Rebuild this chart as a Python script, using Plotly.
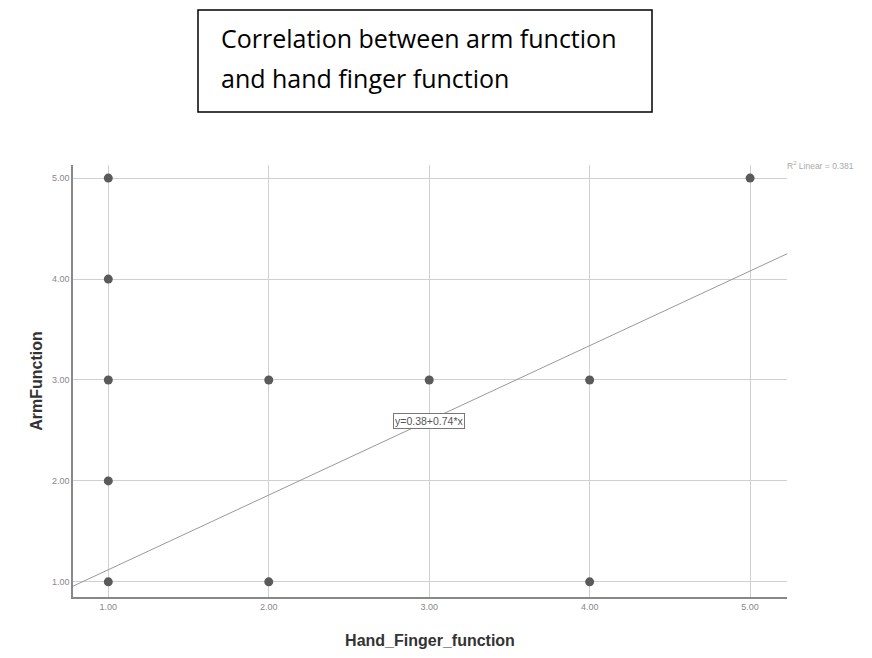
import plotly.graph_objects as go

hand_finger = [1, 1, 1, 1, 1, 2, 2, 3, 4, 4, 5]
arm_function = [1, 2, 3, 4, 5, 1, 3, 3, 1, 3, 5]
intercept = 0.38
slope = 0.74
x_range = [0.78, 5.23]
y_range = [0.85, 5.13]
tick_vals = [1, 2, 3, 4, 5]
tick_text = ["1.00", "2.00", "3.00", "4.00", "5.00"]

# the page body adds an 8px offset; work in page pixels and convert
OFF = 8
L, R, T, B = 73 - OFF, 872 - 787 + OFF, 165 - OFF, 658 - 597 + OFF
PW = 872 - L - R
PH = 658 - T - B


def px(xp):
    return (xp - OFF - L) / PW


def py(yp):
    return (658 - B - (yp - OFF)) / PH


fig = go.Figure()
fig.add_trace(go.Scatter(
    x=x_range, y=[intercept + slope * v for v in x_range],
    mode="lines", line=dict(color="#999999", width=1), hoverinfo="skip", showlegend=False))
fig.add_trace(go.Scatter(
    x=hand_finger, y=arm_function, mode="markers",
    marker=dict(color="#5a5a5a", size=9), showlegend=False))

fig.add_annotation(x=3.0, y=2.59, text="y=0.38+0.74*x", showarrow=False,
                   font=dict(family="Liberation Sans", size=10.5, color="#555"),
                   bordercolor="#777", borderwidth=1, borderpad=1, bgcolor="white")
fig.add_annotation(x=px(785), y=py(165), xref="paper", yref="paper",
                   text="R<sup>2</sup> Linear = 0.381",
                   showarrow=False, xanchor="left", yanchor="middle",
                   font=dict(family="Liberation Sans", size=8.5, color="#aaa"))

fig.add_shape(type="rect", xref="paper", yref="paper",
              x0=px(198), x1=px(652), y0=py(112), y1=py(10),
              line=dict(color="black", width=1.5), fillcolor="white")
fig.add_annotation(xref="paper", yref="paper", x=px(219), y=py(38),
                   text="Correlation between arm function", showarrow=False, xanchor="left",
                   yanchor="middle", font=dict(family="Open Sans", size=25, color="black"))
fig.add_annotation(xref="paper", yref="paper", x=px(219), y=py(78),
                   text="and hand finger function", showarrow=False, xanchor="left",
                   yanchor="middle", font=dict(family="Open Sans", size=25, color="black"))

fig.update_layout(
    width=872, height=658,
    margin=dict(l=L, r=R, t=T, b=B),
    paper_bgcolor="white", plot_bgcolor="white",
    font=dict(family="Liberation Sans"),
    xaxis=dict(range=x_range, tickvals=tick_vals, ticktext=tick_text, showgrid=True,
               gridcolor="#d0d0d0", gridwidth=1, zeroline=False, showline=True, linecolor="#888",
               linewidth=1.5, ticks="", tickfont=dict(size=9, color="#888"),
               title=dict(text="<b>Hand_Finger_function</b>", font=dict(size=16, color="#333"),
                          standoff=24)),
    yaxis=dict(range=y_range, tickvals=tick_vals, ticktext=tick_text, showgrid=True,
               gridcolor="#d0d0d0", gridwidth=1, zeroline=False, showline=True, linecolor="#888",
               linewidth=1.5, ticks="", tickfont=dict(size=9, color="#888"),
               title=dict(text="<b>ArmFunction</b>", font=dict(size=16, color="#333"), standoff=5)),
)

fig.write_html("out.html")
